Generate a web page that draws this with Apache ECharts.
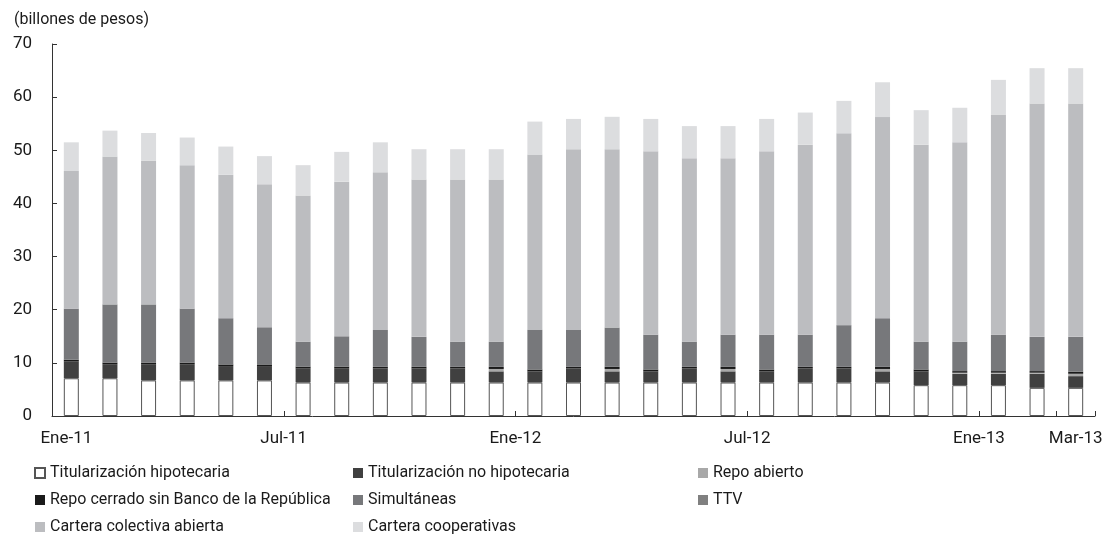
<!DOCTYPE html>
<html>
<head>
<meta charset="utf-8">
<script src="https://cdn.jsdelivr.net/npm/echarts@6/dist/echarts.min.js"></script>
<style>
  html, body { margin: 0; padding: 0; background: #fff; }
  #chart { width: 1107px; height: 546px; }
</style>
</head>
<body>
<div id="chart"></div>
<script>
const months = ['Ene-11', 'Feb-11', 'Mar-11', 'Abr-11', 'May-11', 'Jun-11', 'Jul-11', 'Ago-11', 'Sep-11',
    'Oct-11', 'Nov-11', 'Dic-11', 'Ene-12', 'Feb-12', 'Mar-12', 'Abr-12', 'May-12', 'Jun-12', 'Jul-12',
    'Ago-12', 'Sep-12', 'Oct-12', 'Nov-12', 'Dic-12', 'Ene-13', 'Feb-13', 'Mar-13'];

// billones de pesos
const titHipotecaria = [7.1, 7.1, 6.7, 6.7, 6.7, 6.7, 6.3, 6.3, 6.3, 6.3, 6.3, 6.3, 6.3, 6.3, 6.3, 6.3, 6.3, 6.3, 6.3, 6.3, 6.3, 6.3, 5.8, 5.8, 5.8, 5.3, 5.3];
const titNoHipotecaria = [3.2, 2.65, 3.05, 3.05, 2.7, 2.7, 2.7, 2.7, 2.65, 2.65, 2.65, 2.1, 2.1, 2.65, 2.1, 2.1, 2.65, 2.1, 2.1, 2.65, 2.65, 2.1, 2.6, 2.15, 2.15, 2.65, 2.2];
const repoAbierto = [0, 0, 0, 0, 0, 0, 0, 0, 0, 0, 0, 0.45, 0, 0, 0.45, 0, 0, 0.45, 0, 0, 0, 0.45, 0, 0.2, 0.2, 0.2, 0.45];
const repoCerrado = [0.3, 0.3, 0.3, 0.3, 0.3, 0.3, 0.3, 0.3, 0.3, 0.3, 0.3, 0.4, 0.35, 0.3, 0.4, 0.35, 0.3, 0.4, 0.35, 0.3, 0.3, 0.4, 0.35, 0.3, 0.3, 0.3, 0.4];
const simultaneas = [9.6, 10.95, 10.95, 10.15, 8.7, 7.0, 4.7, 5.7, 6.95, 5.65, 4.75, 4.75, 7.45, 6.95, 7.4, 6.55, 4.75, 6.05, 6.55, 6.05, 7.85, 9.15, 5.25, 5.55, 6.85, 6.45, 6.55];
const ttv = [0, 0, 0, 0, 0, 0, 0, 0, 0, 0, 0, 0, 0, 0, 0, 0, 0, 0, 0, 0, 0, 0, 0, 0, 0, 0, 0];
const carteraColectiva = [25.9, 27.85, 27.0, 27.0, 27.0, 26.9, 27.5, 29.1, 29.65, 29.6, 30.5, 30.5, 33.0, 34.0, 33.55, 34.5, 34.5, 33.2, 34.5, 35.75, 36.1, 37.85, 37.05, 37.5, 41.45, 43.9, 43.9];
const carteraCooperativas = [5.4, 4.85, 5.25, 5.2, 5.3, 5.3, 5.7, 5.6, 5.65, 5.7, 5.7, 5.7, 6.2, 5.7, 6.1, 6.1, 6.05, 6.05, 6.1, 6.05, 6.1, 6.55, 6.5, 6.5, 6.5, 6.65, 6.65];

const labelIdx = [0, 6, 12, 18, 24, 26];
const tickIdx = [6, 12, 18, 24, 26];

const FONT = "Roboto, 'Liberation Sans', sans-serif";
const FS = 17;
const FS_LEG = 16;
const TXT = '#1a1a1a';

function bar(name, data, color, extra) {
    return Object.assign({
        name: name,
        type: 'bar',
        stack: 'total',
        barWidth: 15,
        data: data,
        itemStyle: { color: color },
        emphasis: { disabled: true }
    }, extra || {});
}

const chart = echarts.init(document.getElementById('chart'));

const legendBase = {
    orient: 'vertical',
    icon: 'rect',
    itemWidth: 10,
    itemHeight: 10,
    itemGap: 9,
    padding: 0,
    top: 464,
    selectedMode: false,
    textStyle: { fontFamily: FONT, fontSize: FS_LEG, color: TXT, lineHeight: 18 }
};

const option = {
    animation: false,
    title: {
        text: '(billones de pesos)',
        left: 14,
        top: 12,
        padding: 0,
        textStyle: { fontFamily: FONT, fontSize: FS_LEG, fontWeight: 'normal', color: TXT }
    },
    grid: { left: 52, right: 12, top: 44, bottom: 130 },
    legend: [
        Object.assign({ left: 34, data: ['Titularización hipotecaria', 'Repo cerrado sin Banco de la República', 'Cartera colectiva abierta'] }, legendBase),
        Object.assign({ left: 353, data: ['Titularización no hipotecaria', 'Simultáneas', 'Cartera cooperativas'] }, legendBase),
        Object.assign({ left: 698, data: ['Repo abierto', 'TTV'] }, legendBase)
    ],
    xAxis: {
        type: 'category',
        data: months,
        axisLine: { lineStyle: { color: '#333', width: 1 } },
        axisTick: {
            show: true,
            inside: true,
            length: 5,
            interval: (i) => tickIdx.includes(i),
            lineStyle: { color: '#333' }
        },
        axisLabel: {
            interval: (i) => labelIdx.includes(i),
            margin: 14,
            fontFamily: FONT,
            fontSize: FS,
            color: TXT,
            formatter: (value, index) => {
                if (index === 0) return '{f|' + value + '}';
                if (index === 26) return '{c|' + value + '}';
                return '{b|' + value + '}';
            },
            rich: {
                f: { fontFamily: FONT, fontSize: FS, color: TXT, padding: [0, 10, 0, 0] },
                b: { fontFamily: FONT, fontSize: FS, color: TXT, padding: [0, 39, 0, 0] },
                c: { fontFamily: FONT, fontSize: FS, color: TXT }
            }
        }
    },
    yAxis: {
        type: 'value',
        min: 0,
        max: 70,
        interval: 10,
        axisLine: { show: true, lineStyle: { color: '#333', width: 1 } },
        axisTick: { show: true, inside: true, length: 5, lineStyle: { color: '#333' } },
        splitLine: { show: false },
        axisLabel: { margin: 20, fontFamily: FONT, fontSize: FS, color: TXT }
    },
    series: [
        bar('Titularización hipotecaria', titHipotecaria, '#ffffff',
            { itemStyle: { color: '#ffffff', borderColor: '#555', borderWidth: 1 } }),
        bar('Titularización no hipotecaria', titNoHipotecaria, '#404040'),
        bar('Repo abierto', repoAbierto, '#a8a8a8'),
        bar('Repo cerrado sin Banco de la República', repoCerrado, '#1a1a1a'),
        bar('Simultáneas', simultaneas, '#77787b'),
        bar('TTV', ttv, '#808080'),
        bar('Cartera colectiva abierta', carteraColectiva, '#bcbdc0'),
        bar('Cartera cooperativas', carteraCooperativas, '#dcdddf')
    ]
};

chart.setOption(option);
</script>
</body>
</html>
